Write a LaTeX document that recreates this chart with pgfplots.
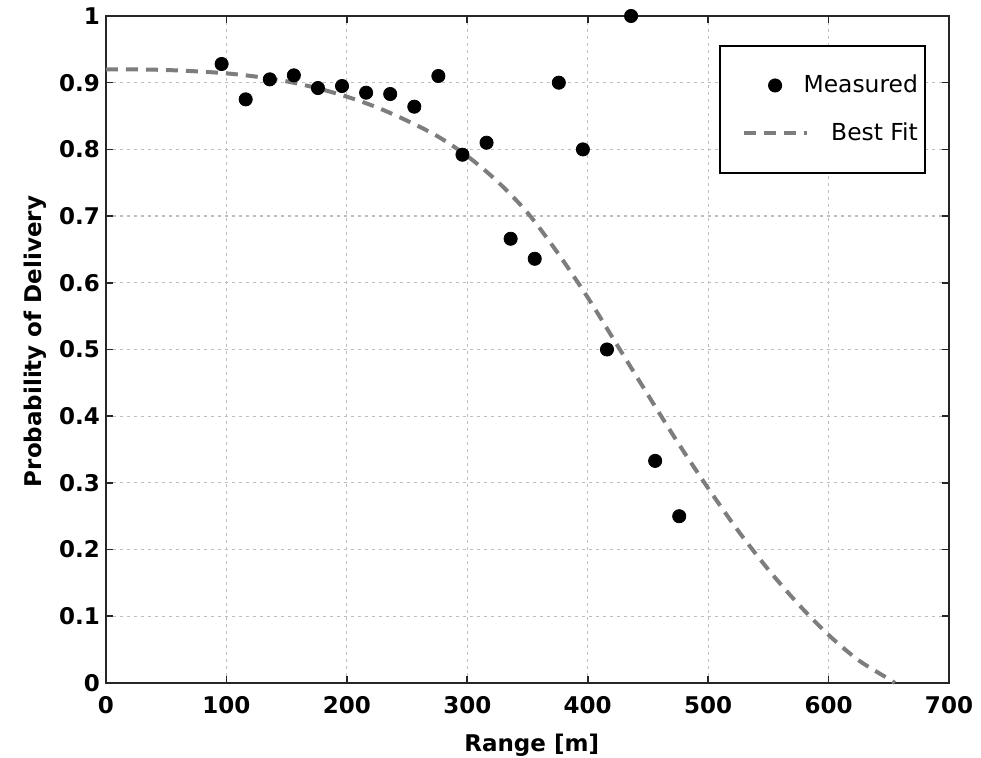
\documentclass[border=0pt]{standalone}
\usepackage{fontspec}
\setmainfont{DejaVu Sans}
\usepackage{pgfplots}
\pgfplotsset{compat=1.18}
\definecolor{fitgray}{RGB}{125,125,125}
\definecolor{gridgray}{RGB}{190,190,190}

% legend handles: blank room on the left, handle runs a little into the text column
\pgfplotsset{
    dotlegend/.style={legend image code/.code={%
        \path[draw=none,fill=none] (-3.5pt,0pt) (35pt,0pt);
        \draw[overlay,##1,only marks] plot coordinates {(22.75pt,0pt)};}},
    linelegend/.style={legend image code/.code={%
        \path[draw=none,fill=none] (-3.5pt,0pt) (35pt,0pt);
        \draw[overlay,##1] (7pt,0pt) -- (38.5pt,0pt);}},
}

\begin{document}
\begin{tikzpicture}
\useasboundingbox (-53pt,-37.5pt) rectangle (437.5pt,341.5pt);
\begin{axis}[
    at={(0,0)}, anchor=south west,
    scale only axis,
    width=421.5pt, height=333.5pt,
    xmin=0, xmax=700, ymin=0, ymax=1,
    xtick={0,100,200,300,400,500,600,700},
    ytick={0,0.1,0.2,0.3,0.4,0.5,0.6,0.7,0.8,0.9,1},
    /pgf/number format/assume math mode=true,
    ticklabel style={font=\fontsize{11.5}{13}\selectfont\bfseries},
    xticklabel style={yshift=-3pt},
    yticklabel style={xshift=0.5pt},
    tick align=inside,
    major tick length=3.5pt,
    tick style={black!85, line width=0.8pt},
    axis line style={black!85, line width=1pt},
    grid=major,
    grid style={gridgray, line width=0.6pt, dash pattern=on 1.5pt off 2pt},
    xlabel={\bfseries Range [m]},
    ylabel={\bfseries Probability of Delivery},
    label style={font=\fontsize{11.5}{13}\selectfont},
    xlabel style={at={(axis description cs:0.505,-0.093)}, anchor=center},
    ylabel style={at={(axis description cs:-0.084,0.512)}, anchor=center},
    clip=false,
    legend cell align=right,
    legend style={
        at={(rel axis cs:1,1)}, anchor=north east,
        xshift=-11.5pt, yshift=-14.5pt,
        draw=black, line width=1.1pt,
        inner xsep=1.5pt, inner ysep=12.5pt,
        row sep=9.5pt,
        font=\fontsize{11.7}{13}\selectfont,
    },
]
\addplot[only marks, mark=*, mark size=3.3pt, black, line width=0.4pt, dotlegend]
    coordinates {
    (96,0.928) (116,0.875) (136,0.905) (156,0.911) (176,0.892)
    (196,0.895) (216,0.885) (236,0.883) (256,0.864) (276,0.910)
    (296,0.792) (316,0.810) (336,0.666) (356,0.636) (376,0.900)
    (396,0.800) (416,0.500) (436,1.000) (456,0.333) (476,0.250)
};
\addlegendentry{Measured}
\addplot[fitgray, line width=2pt, dash pattern=on 6pt off 4pt, smooth, linelegend]
    coordinates {
    (0,0.920) (25,0.920) (50,0.919) (75,0.917) (100,0.914) (125,0.909)
    (150,0.902) (175,0.892) (200,0.879) (225,0.863) (250,0.843)
    (275,0.820) (300,0.790) (325,0.752) (350,0.705) (375,0.645)
    (400,0.578) (425,0.505) (450,0.432) (475,0.360) (500,0.292)
    (525,0.228) (550,0.170) (575,0.118) (600,0.072) (625,0.034)
    (650,0.006) (655,0.000)
};
\addlegendentry{Best Fit}
\end{axis}
\end{tikzpicture}
\end{document}
